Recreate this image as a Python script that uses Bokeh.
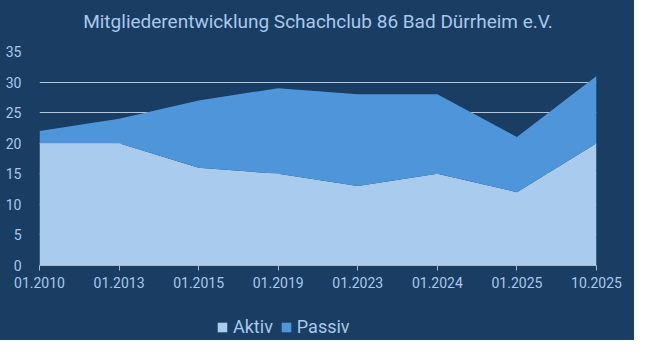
from bokeh.plotting import figure
from bokeh.models import FixedTicker, Range1d, Legend, LegendItem, Label
from bokeh.layouts import column
from bokeh.embed import file_html
from bokeh.resources import INLINE

title_text = "Mitgliederentwicklung Schachclub 86 Bad Dürrheim e.V."
labels = ["01.2010", "01.2013", "01.2015", "01.2019", "01.2023", "01.2024", "01.2025", "10.2025"]
aktiv = [20, 20, 16, 15, 13, 15, 12, 20]
passiv = [2, 4, 11, 14, 15, 13, 9, 11]
y_ticks = [0, 5, 10, 15, 20, 25, 30, 35]
series_names = ["Aktiv", "Passiv"]

BG = "#1a3d63"
C_AKTIV = "#a9cbee"
C_PASSIV = "#4e96d9"
TXT = "#a9c8ea"
FONT = "Roboto"
W = 634

xs = list(range(len(labels)))
data = dict(x=xs, aktiv=aktiv, passiv=passiv)


def blank(height, y0=0):
    f = figure(width=W, height=height, output_backend="svg", toolbar_location=None,
               x_range=Range1d(0, W), y_range=Range1d(y0, y0 + height),
               min_border=0, min_border_left=0, min_border_right=0,
               min_border_top=0, min_border_bottom=0,
               styles={"background-color": BG})
    f.axis.visible = False
    f.grid.visible = False
    f.outline_line_color = None
    f.background_fill_color = BG
    f.border_fill_color = BG
    return f


# --- title strip ---
pt = blank(45)
pt.add_layout(Label(x=W / 2, y=24, text=title_text, text_align="center", text_baseline="middle",
                    text_color=TXT, text_font=FONT, text_font_size="19px"))

# --- main chart ---
p = figure(width=W, height=259, output_backend="svg", toolbar_location=None,
           x_range=Range1d(0, len(labels) - 1), y_range=Range1d(0, 35),
           min_border_left=39, min_border_right=38, min_border_top=6, min_border_bottom=39,
           styles={"background-color": BG})
p.background_fill_color = BG
p.border_fill_color = BG
p.outline_line_color = None

p.varea_stack(stackers=["aktiv", "passiv"], x="x", color=[C_AKTIV, C_PASSIV], source=data)

p.xgrid.grid_line_color = None
p.ygrid.grid_line_color = "#b7c6d6"
p.ygrid.grid_line_width = 1
p.ygrid.level = "underlay"

p.xaxis.ticker = FixedTicker(ticks=xs)
p.xaxis.major_label_overrides = {i: l for i, l in enumerate(labels)}
p.xaxis.axis_line_color = "#a9bccf"
p.xaxis.major_tick_line_color = "#a9bccf"
p.xaxis.major_tick_in = 0
p.xaxis.major_tick_out = 5
p.xaxis.minor_tick_line_color = None
p.xaxis.major_label_text_color = TXT
p.xaxis.major_label_text_font = FONT
p.xaxis.major_label_text_font_size = "14px"
p.xaxis.major_label_standoff = 6

p.yaxis.ticker = FixedTicker(ticks=y_ticks)
p.yaxis.axis_line_color = None
p.yaxis.major_tick_line_color = None
p.yaxis.minor_tick_line_color = None
p.yaxis.major_label_text_color = TXT
p.yaxis.major_label_text_font = FONT
p.yaxis.major_label_text_font_size = "14px"
p.yaxis.major_label_standoff = 12

# --- legend strip (series drawn out of view; only their legend entries show) ---
pl = blank(36, y0=1000)
rl = pl.varea_stack(stackers=["aktiv", "passiv"], x="x", color=[C_AKTIV, C_PASSIV], source=data)
legend = Legend(items=[LegendItem(label=series_names[0], renderers=[rl[0]]),
                       LegendItem(label=series_names[1], renderers=[rl[1]])],
                orientation="horizontal", location=(177, 3))
legend.background_fill_alpha = 0
legend.border_line_color = None
legend.label_text_color = TXT
legend.label_text_font = FONT
legend.label_text_font_size = "18px"
legend.glyph_width = 12
legend.glyph_height = 12
legend.label_standoff = 5
legend.spacing = 7
legend.margin = 0
legend.padding = 4
pl.add_layout(legend)

layout = column(pt, p, pl, spacing=0, styles={"background-color": BG})
open("out.html", "w").write(file_html(layout, INLINE))
